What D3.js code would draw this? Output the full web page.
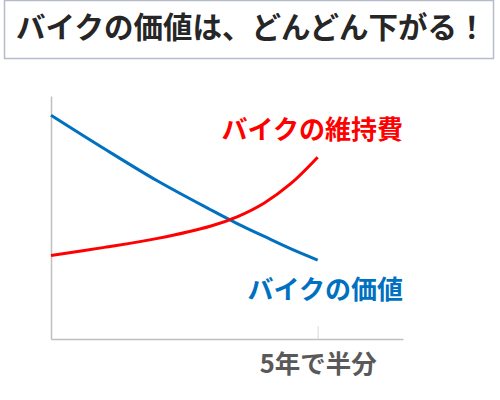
<!DOCTYPE html>
<html>
<head>
<meta charset="utf-8">
<script src="https://cdn.jsdelivr.net/npm/d3@7"></script>
<style>
  body { margin: 0; background: #fff; }
  svg { display: block; font-family: "Noto Sans CJK JP", "Noto Sans", sans-serif; }
</style>
</head>
<body>
<svg id="chart" width="500" height="400"></svg>
<script>
// chart data (years since purchase, arbitrary index values)
const years = [0, 1, 2, 3, 3.5, 4, 4.5, 5];
const bikeValue = [92.1, 78.3, 65.0, 53.1, 47.4, 42.2, 37.1, 32.5];
const upkeepCost = [34.4, 37.7, 41.4, 46.5, 50.4, 56.0, 64.0, 74.8];
const tickYears = [5];
const tickLabels = ["5年で半分"];
const titleText = "バイクの価値は、どんどん下がる！";
const seriesNames = ["バイクの維持費", "バイクの価値"];

const svg = d3.select("#chart");

// title box
svg.append("rect")
    .attr("x", 4.5)
    .attr("y", 0.5)
    .attr("width", 489)
    .attr("height", 58)
    .attr("fill", "#fff")
    .attr("stroke", "#b4bccb")
    .attr("stroke-width", 1.5);

svg.append("text")
    .attr("x", 16)
    .attr("y", 38)
    .attr("font-size", 29.5)
    .attr("font-weight", "bold")
    .attr("fill", "#262626")
    .text(titleText);

// scales
const x = d3.scaleLinear().domain([0, 6.6]).range([51, 403]);
const y = d3.scaleLinear().domain([0, 100]).range([339, 96]);

// axes
const xAxis = svg.append("g")
    .attr("transform", "translate(0,339)")
    .call(d3.axisBottom(x)
        .tickValues(tickYears)
        .tickFormat((d, i) => tickLabels[i])
        .tickSizeInner(-13)
        .tickSizeOuter(0)
        .tickPadding(16));

xAxis.select(".domain").attr("stroke", "#bfbfbf").attr("stroke-width", 1.5);
xAxis.selectAll(".tick line").attr("stroke", "#d9d9d9").attr("stroke-width", 1);
xAxis.selectAll(".tick text")
    .attr("font-family", "'Noto Sans CJK JP', sans-serif")
    .attr("font-size", 25.5)
    .attr("font-weight", "bold")
    .attr("fill", "#595959");

const yAxis = svg.append("g")
    .attr("transform", "translate(51,0)")
    .call(d3.axisLeft(y).ticks(0).tickSizeOuter(0));

yAxis.select(".domain").attr("stroke", "#bfbfbf").attr("stroke-width", 1.5);

// lines
const line = d3.line()
    .x((d, i) => x(years[i]))
    .y(d => y(d))
    .curve(d3.curveCatmullRom);

svg.append("path")
    .datum(bikeValue)
    .attr("fill", "none")
    .attr("stroke", "#0070c0")
    .attr("stroke-width", 3)
    .attr("d", line);

svg.append("path")
    .datum(upkeepCost)
    .attr("fill", "none")
    .attr("stroke", "#ff0000")
    .attr("stroke-width", 3)
    .attr("d", line);

// series labels
svg.append("text")
    .attr("x", 403)
    .attr("y", 139)
    .attr("text-anchor", "end")
    .attr("font-size", 26)
    .attr("font-weight", "bold")
    .attr("fill", "#ff0000")
    .text(seriesNames[0]);

svg.append("text")
    .attr("x", 403)
    .attr("y", 299)
    .attr("text-anchor", "end")
    .attr("font-size", 26)
    .attr("font-weight", "bold")
    .attr("fill", "#0070c0")
    .text(seriesNames[1]);
</script>
</body>
</html>
